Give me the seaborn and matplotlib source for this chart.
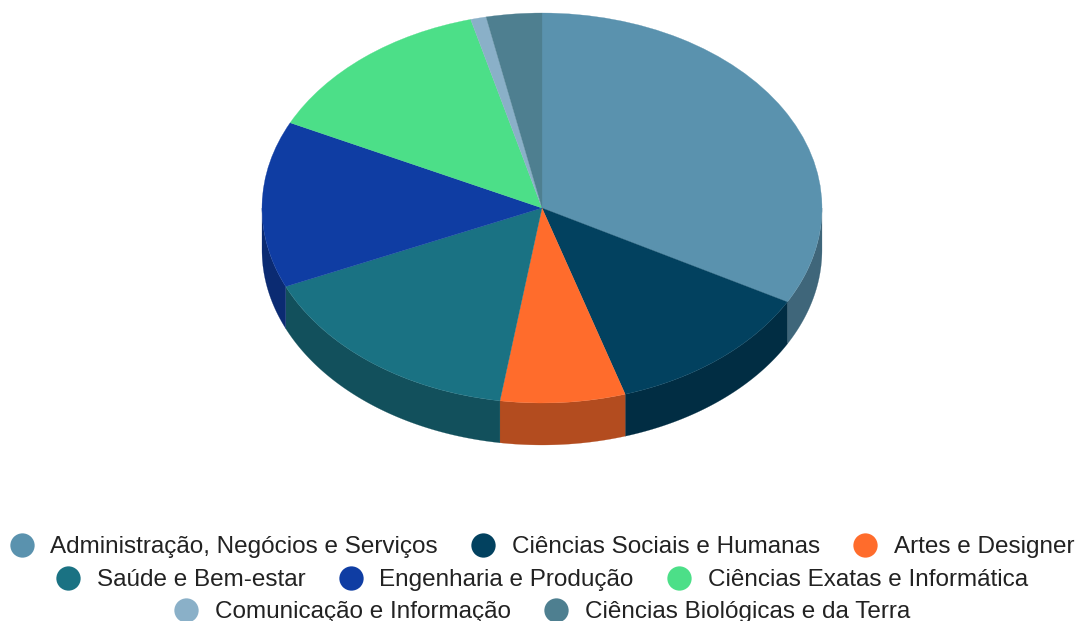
import numpy as np
import matplotlib
matplotlib.use("Agg")
import matplotlib.pyplot as plt
from matplotlib.lines import Line2D
import seaborn as sns

categories = ["Administração, Negócios e Serviços", "Ciências Sociais e Humanas", "Artes e Designer",
              "Saúde e Bem-estar", "Engenharia e Produção", "Ciências Exatas e Informática",
              "Comunicação e Informação", "Ciências Biológicas e da Terra"]
values = [33.0, 12.2, 7.2, 16.0, 13.8, 13.7, 0.9, 3.2]
colors = ["#5A92AE", "#02415F", "#FF6C2C", "#1A7283", "#0F3DA3", "#4CDF88", "#8AB0C8", "#4E7F90"]
legend_rows = [[0, 1, 2], [3, 4, 5], [6, 7]]

sns.set_theme(style="white")
plt.rcParams["font.family"] = ["Liberation Sans", "DejaVu Sans"]
palette = sns.color_palette(colors)
side_palette = [tuple(c * 0.70 for c in col) for col in palette]

W, H = 1078, 621
cx, cy, rx, ry, depth = 542, 208, 280, 195, 42
fig = plt.figure(figsize=(W / 100, H / 100), dpi=100, facecolor="white")
ax = fig.add_axes([0, 0, 1, 1])

# side walls of the tilted disc, in units of the top ellipse
d = depth / ry
edges = np.cumsum([0] + values) / sum(values) * 2 * np.pi
for i, col in enumerate(side_palette):
    a, b = max(edges[i], np.pi / 2), min(edges[i + 1], 3 * np.pi / 2)
    if b <= a:
        continue
    t = np.linspace(a, b, 120)
    x, y = np.sin(t), np.cos(t)
    ax.fill(np.r_[x, x[::-1]], np.r_[y, y[::-1] - d], color=col, lw=0.15, zorder=1)

wedges, _ = ax.pie(values, colors=palette, startangle=90, counterclock=False, radius=1,
                   wedgeprops=dict(linewidth=0.2, edgecolor="none"))
for w, c in zip(wedges, palette):
    w.set_edgecolor(c)
    w.set_zorder(2)

ax.set_aspect("auto")
ax.set_xlim((0 - cx) / rx, (W - cx) / rx)
ax.set_ylim((cy - H) / ry, (cy - 0) / ry)
ax.axis("off")

for row, yp in zip(legend_rows, [547, 580, 612]):
    handles = [Line2D([], [], ls="", marker="o", ms=17.5, mew=0, color=palette[i]) for i in row]
    fig.legend(handles, [categories[i] for i in row], ncol=len(row), loc="center",
               bbox_to_anchor=(cx / W, 1 - yp / H), frameon=False, fontsize=17.45,
               labelcolor="#222222", handlelength=1.0, handletextpad=0.67, columnspacing=1.38,
               borderpad=0, borderaxespad=0)

fig.savefig("out.png", dpi=100, facecolor="white")
